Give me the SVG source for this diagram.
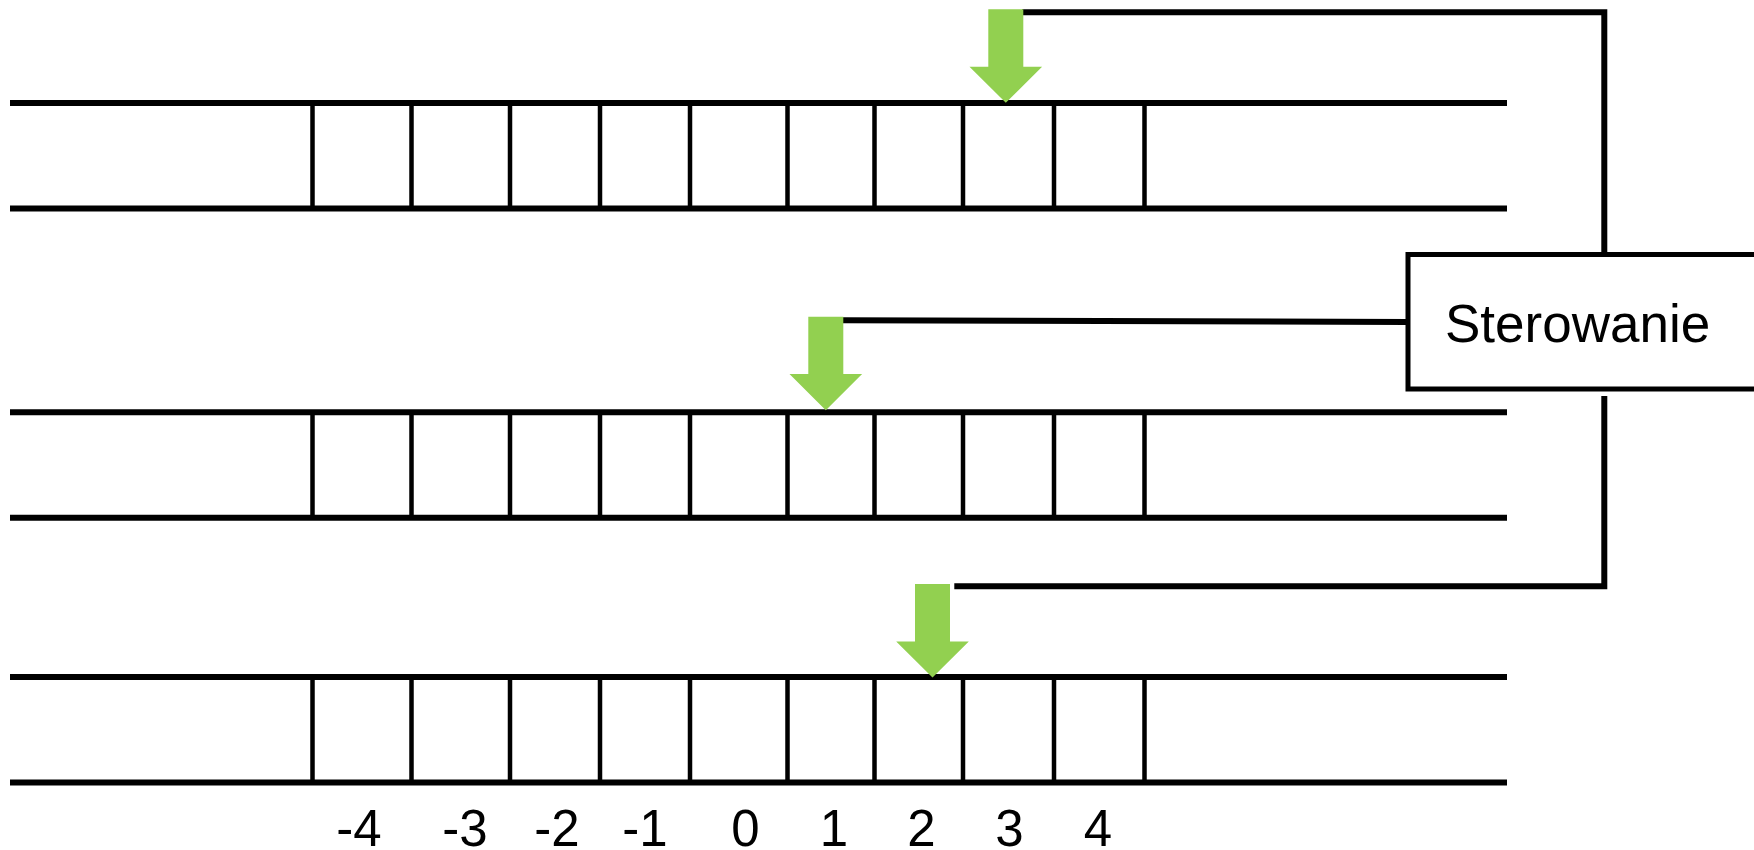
<svg xmlns="http://www.w3.org/2000/svg" width="1754" height="850" viewBox="0 0 1754 850">
<style>
.rail{stroke:#000;stroke-width:6;fill:none}
.cell{stroke:#000;stroke-width:4.5;fill:none}
.wire{stroke:#000;stroke-width:6;fill:none}
.arrow{fill:#92D050;stroke:none}
.lbl{font-family:"Liberation Sans",Arial,sans-serif;font-size:51px;fill:#000;text-anchor:middle}
.box{fill:#fff;stroke:#000;stroke-width:5}
</style>
<defs>
<g id="tape">
<line class="rail" x1="10" y1="0" x2="1507" y2="0"/>
<line class="rail" x1="10" y1="105.5" x2="1507" y2="105.5"/>
<path class="cell" d="M312.5 0V105.5M411.5 0V105.5M510 0V105.5M600 0V105.5M690 0V105.5M787.5 0V105.5M874.5 0V105.5M963 0V105.5M1054 0V105.5M1144.5 0V105.5"/>
</g>
<path id="arr" d="M-17.5 0H17.5V57.4H36.3L0 93.5L-36.3 57.4H-17.5Z"/>
</defs>
<g id="tape1"><use href="#tape" y="103"/></g>
<g id="tape2"><use href="#tape" y="412.3"/></g>
<g id="tape3"><use href="#tape" y="677"/></g>
<g id="connectors">
<polyline class="wire" points="1022,12.3 1604.3,12.3 1604.3,254.5"/>
<line class="wire" x1="842" y1="320.3" x2="1408" y2="322"/>
<polyline class="wire" points="954.3,586.3 1604.3,586.3 1604.3,396"/>
</g>
<g id="head1"><use href="#arr" class="arrow" x="1005.8" y="9.3"/></g>
<g id="head2"><use href="#arr" class="arrow" x="825.8" y="316.7"/></g>
<g id="head3"><use href="#arr" class="arrow" x="932.5" y="584"/></g>
<g id="sterowanie">
<rect class="box" x="1408" y="254.5" width="380" height="134.5"/>
<text x="1445" y="341.5" style="font-family:'Liberation Sans',Arial,sans-serif;font-size:53px;fill:#000">Sterowanie</text>
</g>
<g id="labels">
<text class="lbl" x="359" y="846">-4</text>
<text class="lbl" x="465" y="846">-3</text>
<text class="lbl" x="557" y="846">-2</text>
<text class="lbl" x="645" y="846">-1</text>
<text class="lbl" x="745.5" y="846">0</text>
<text class="lbl" x="834" y="846">1</text>
<text class="lbl" x="921.5" y="846">2</text>
<text class="lbl" x="1009.5" y="846">3</text>
<text class="lbl" x="1098" y="846">4</text>
</g>
</svg>
